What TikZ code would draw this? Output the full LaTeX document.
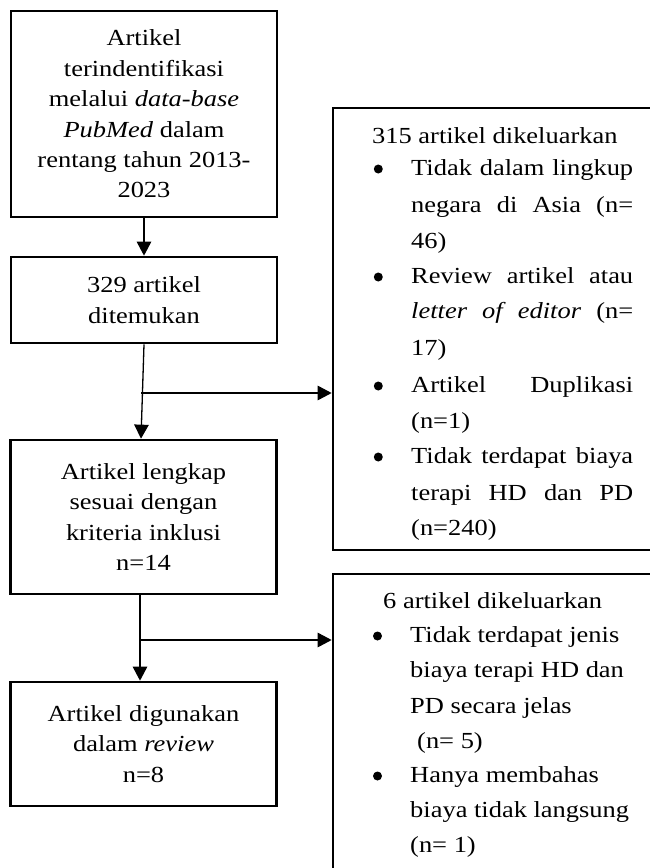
\documentclass[tikz,border=0pt]{standalone}
\usepackage{fontspec}
\setmainfont{Liberation Serif}[FakeStretch=1.15]
\usetikzlibrary{arrows.meta}
\begin{document}
\begin{tikzpicture}[x=1pt,y=-1pt,
  box/.style={draw, line width=2.7pt, rectangle, minimum width=266pt, inner sep=0pt, align=center, font=\fontsize{23}{30.4}\selectfont},
  exbox/.style={draw, line width=2.7pt, rectangle, inner sep=0pt},
  txt/.style={anchor=base west, inner sep=0pt, font=\fontsize{23}{30}\selectfont},
  dot/.style={circle, fill, inner sep=0pt, minimum size=9pt},
  arr/.style={line width=1.3pt, -{Triangle[length=14pt,width=14.5pt]}}]
\useasboundingbox (0,0) rectangle (650,868);
\clip (0,0) rectangle (650,868);

% left column
\node[box, minimum height=206pt] (b1) at (144,114) {Artikel\\terindentifikasi\\melalui \textit{data-base}\\\textit{PubMed} dalam\\rentang tahun 2013-\\2023};
\node[box, minimum height=86pt] (b2) at (144,300) {329 artikel\\ditemukan};
\node[box, minimum height=154pt] (b3) at (143.5,517) {Artikel lengkap\\sesuai dengan\\kriteria inklusi\\n=14};
\node[box, minimum height=124pt] (b4) at (143.5,744) {Artikel digunakan\\dalam \textit{review}\\n=8};

% right boxes (cut by the page edge)
\node[exbox, minimum width=337pt, minimum height=442pt] (r1) at (501.5,329) {};
\node[exbox, minimum width=337pt, minimum height=316pt] (r2) at (501.5,732) {};

% text of first exclusion box
\node[txt] (a0) at (372,143) {315 artikel dikeluarkan};
\node[dot] (p1) at (378.3,169) {};
\node[dot] (p2) at (378.3,277) {};
\node[dot] (p3) at (378.3,386) {};
\node[dot] (p4) at (378.3,457) {};
\node[txt] (a1) at (411,175) {\makebox[222pt][s]{Tidak dalam lingkup}};
\node[txt] (a2) at (411,212) {\makebox[222pt][s]{negara di Asia (n=}};
\node[txt] (a3) at (411,248) {46)};
\node[txt] (a4) at (411,283) {\makebox[222pt][s]{Review artikel atau}};
\node[txt] (a5) at (411,318) {\makebox[222pt][s]{\textit{letter of editor} (n=}};
\node[txt] (a6) at (411,355) {17)};
\node[txt] (a7) at (411,392) {\makebox[222pt][s]{Artikel Duplikasi}};
\node[txt] (a8) at (411,428) {(n=1)};
\node[txt] (a9) at (411,463) {\makebox[222pt][s]{Tidak terdapat biaya}};
\node[txt] (a10) at (411,500) {\makebox[222pt][s]{terapi HD dan PD}};
\node[txt] (a11) at (411,535) {(n=240)};

% text of second exclusion box
\node[txt] (c0) at (383,608) {6 artikel dikeluarkan};
\node[dot] (q1) at (377.5,636) {};
\node[dot] (q2) at (377.5,776) {};
\node[txt] (c1) at (410,642) {Tidak terdapat jenis};
\node[txt] (c2) at (410,677) {biaya terapi HD dan};
\node[txt] (c3) at (410,713) {PD secara jelas};
\node[txt] (c4) at (417,748) {(n= 5)};
\node[txt] (c5) at (410,782) {Hanya membahas};
\node[txt] (c6) at (410,817) {biaya tidak langsung};
\node[txt] (c7) at (410,852) {(n= 1)};

% connectors
\draw[arr] (b1.south) -- (b2.north);
\draw[arr] (b2.south) -- ([xshift=-2.5pt]b3.north);
\coordinate (j1) at (141,393);
\draw[arr] (j1) -- (j1 -| r1.west);
\draw[arr] ([xshift=-3.5pt]b3.south) -- ([xshift=-3.5pt]b4.north);
\coordinate (j2) at (140,640);
\draw[arr] (j2) -- (j2 -| r2.west);
\end{tikzpicture}
\end{document}
